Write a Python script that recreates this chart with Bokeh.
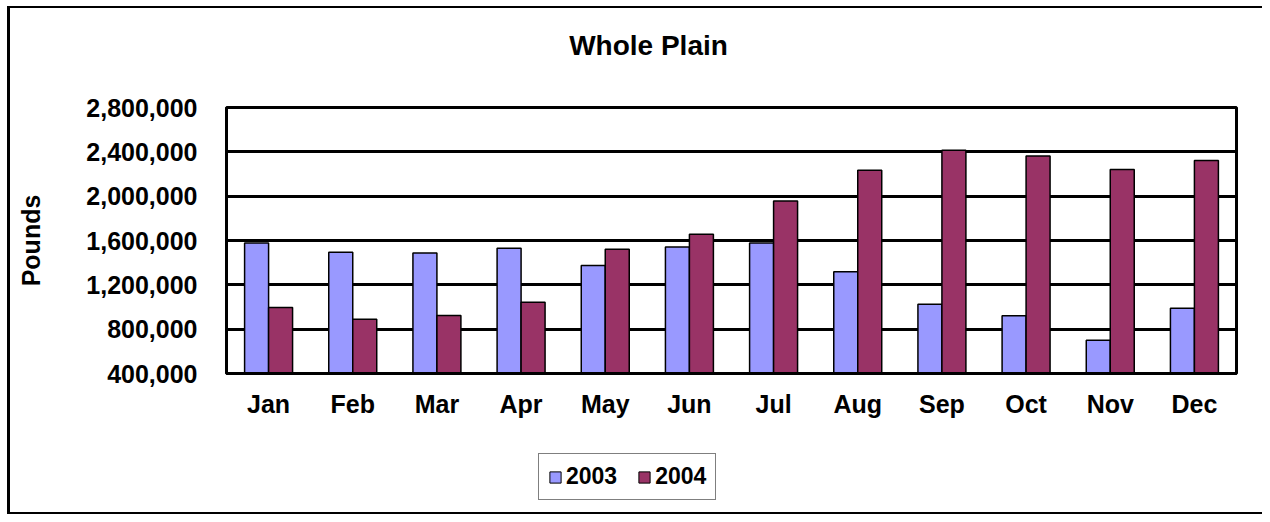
from bokeh.plotting import figure
from bokeh.layouts import column
from bokeh.models import (ColumnDataSource, FactorRange, Range1d, FixedTicker,
                          NumeralTickFormatter, Legend, LegendItem, Label)
from bokeh.transform import dodge
from bokeh.embed import file_html
from bokeh.resources import INLINE

months = ["Jan", "Feb", "Mar", "Apr", "May", "Jun", "Jul", "Aug", "Sep", "Oct", "Nov", "Dec"]
series_names = ["2003", "2004"]
pounds_2003 = [1578000, 1494000, 1488000, 1530000, 1374000, 1542000, 1578000, 1317000, 1025000, 920000, 700000, 989000]
pounds_2004 = [995000, 890000, 923000, 1043000, 1521000, 1657000, 1957000, 2234000, 2415000, 2363000, 2240000, 2322000]
y_ticks = [400000, 800000, 1200000, 1600000, 2000000, 2400000, 2800000]

FONT = "Liberation Sans"
C2003 = "#9999FF"
C2004 = "#993366"
W = 1252

src = ColumnDataSource(dict(month=months, y2003=pounds_2003, y2004=pounds_2004))


def strip(height):
    f = figure(width=W, height=height, x_range=Range1d(0, 1), y_range=Range1d(0, 1),
               output_backend="svg", toolbar_location=None,
               min_border_left=0, min_border_right=0, min_border_top=0, min_border_bottom=0)
    f.axis.visible = False
    f.grid.grid_line_color = None
    f.outline_line_color = None
    return f


# title strip
p0 = strip(79)
p0.add_layout(Label(x=422, y=42, x_units="screen", y_units="screen", text="Whole Plain",
                    text_font=FONT, text_font_style="bold", text_font_size="28px",
                    text_align="center", text_baseline="middle", text_color="black"))

# main chart
p = figure(width=W, height=361, x_range=FactorRange(*months, range_padding=0),
           y_range=Range1d(400000, 2800000), output_backend="svg",
           toolbar_location=None, min_border_left=216, min_border_right=26,
           min_border_top=20, min_border_bottom=75)

bw = 0.285
r1 = p.vbar(x=dodge("month", -bw / 2, range=p.x_range), top="y2003", bottom=400000,
            width=bw, source=src, fill_color=C2003, line_color="black", line_width=1.5)
r2 = p.vbar(x=dodge("month", bw / 2, range=p.x_range), top="y2004", bottom=400000,
            width=bw, source=src, fill_color=C2004, line_color="black", line_width=1.5)

p.outline_line_color = "black"
p.outline_line_width = 3
p.xgrid.grid_line_color = None
p.ygrid.grid_line_color = "black"
p.ygrid.grid_line_width = 3
p.yaxis.ticker = FixedTicker(ticks=y_ticks)
p.yaxis.formatter = NumeralTickFormatter(format="0,0")

for ax in (p.xaxis[0], p.yaxis[0]):
    ax.axis_line_color = "black"
    ax.axis_line_width = 3
    ax.major_tick_line_color = None
    ax.minor_tick_line_color = None
    ax.major_tick_out = 0
    ax.major_tick_in = 0
    ax.minor_tick_out = 0
    ax.major_label_text_font = FONT
    ax.major_label_text_font_style = "bold"
    ax.major_label_text_font_size = "25px"
    ax.major_label_text_color = "black"

p.xaxis.major_label_standoff = 16
p.yaxis.major_label_standoff = 29
p.yaxis.axis_label = "Pounds"
p.yaxis.axis_label_text_font = FONT
p.yaxis.axis_label_text_font_style = "bold"
p.yaxis.axis_label_text_font_size = "25px"
p.yaxis.axis_label_text_color = "black"
p.yaxis.axis_label_standoff = 38

# legend strip (swatch glyphs carry no visible data; they only style the legend keys)
p2 = strip(64)
swatch = ColumnDataSource(dict(x=[-50], top=[-50], bottom=[-50]))
g1 = p2.vbar(x="x", top="top", bottom="bottom", width=0, source=swatch,
             fill_color=C2003, line_color="black", line_width=1)
g2 = p2.vbar(x="x", top="top", bottom="bottom", width=0, source=swatch,
             fill_color=C2004, line_color="black", line_width=1)

legend = Legend(items=[LegendItem(label=series_names[0], renderers=[g1]),
                       LegendItem(label=series_names[1], renderers=[g2])],
                orientation="horizontal", location=(312, 12),
                label_text_font=FONT, label_text_font_style="bold",
                label_text_font_size="23px", label_text_color="black",
                glyph_width=14, glyph_height=14, label_standoff=4, spacing=20,
                padding=9, margin=0, border_line_color="black", border_line_width=1,
                background_fill_alpha=1)
p2.add_layout(legend, "center")

layout = column(p0, p, p2, spacing=0)
layout.styles = {"border-left": "3px solid black", "border-top": "2px solid black",
                 "border-bottom": "2px solid black", "border-right": "none",
                 "margin-left": "7px", "margin-top": "6px"}

open("out.html", "w").write(file_html(layout, INLINE))
